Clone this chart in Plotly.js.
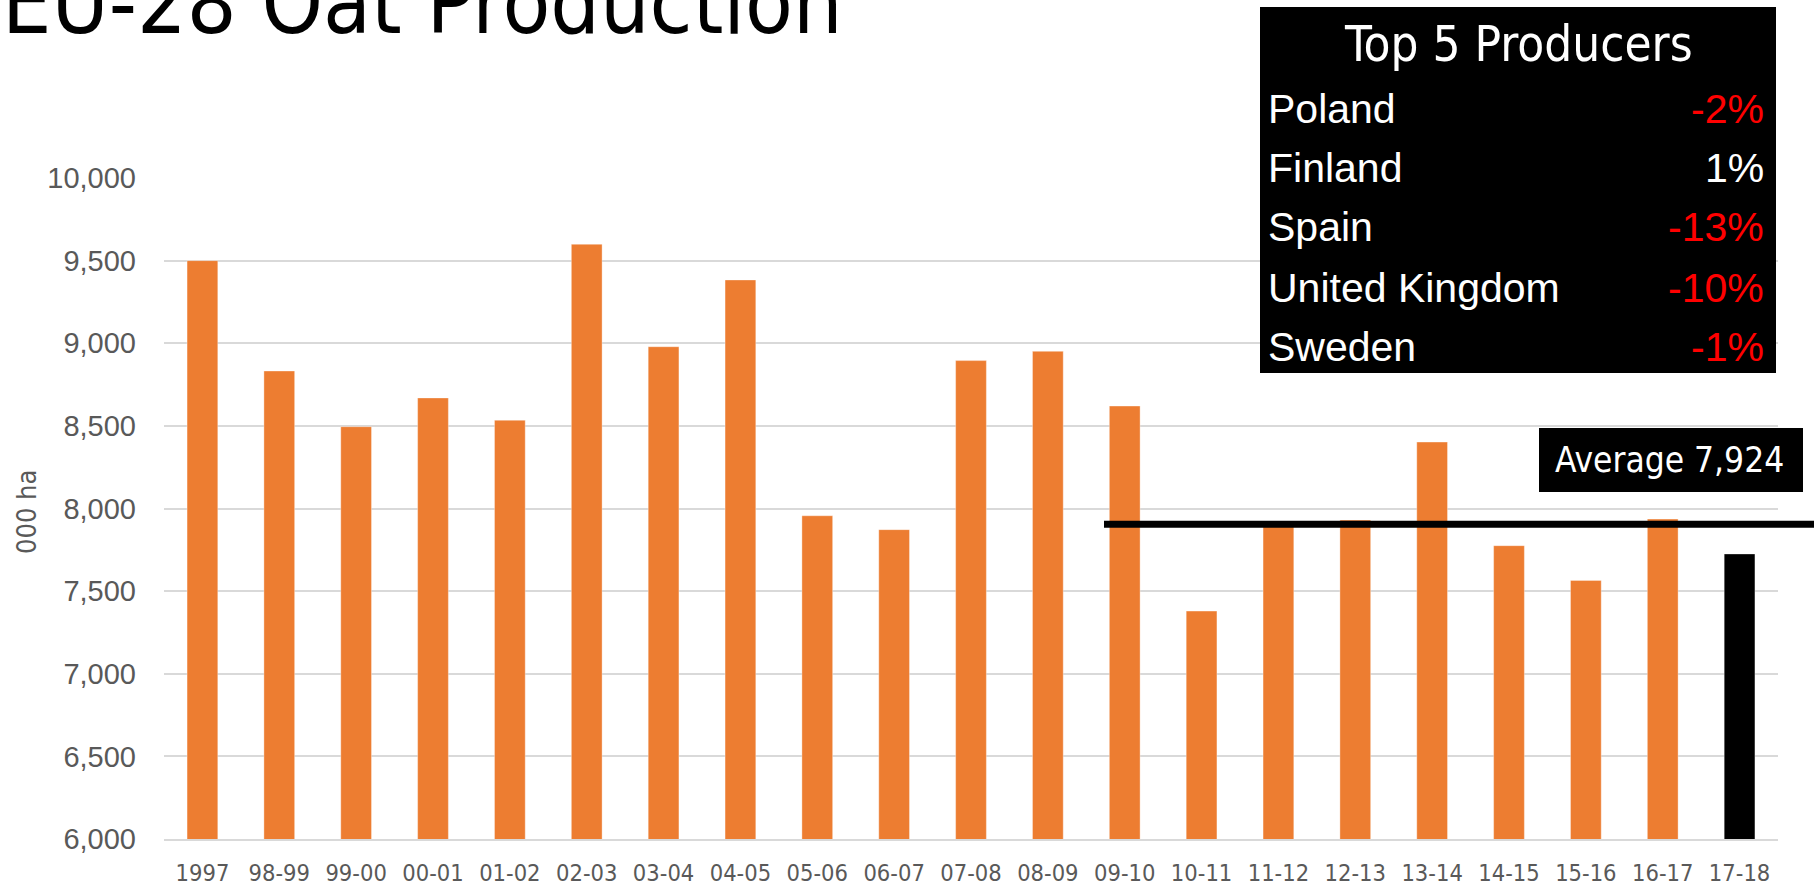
<!DOCTYPE html>
<html>
<head>
<meta charset="utf-8">
<script src="https://cdn.plot.ly/plotly-3.0.1.min.js"></script>
<style>
  html, body { margin: 0; padding: 0; background: #ffffff; }
  #chart { width: 1814px; height: 888px; }
</style>
</head>
<body>
<div id="chart"></div>
<script>
// ---- data ----
const categories = ['1997','98-99','99-00','00-01','01-02','02-03','03-04','04-05','05-06','06-07',
                    '07-08','08-09','09-10','10-11','11-12','12-13','13-14','14-15','15-16','16-17','17-18'];
const areaValues = [9500, 8832, 8495, 8669, 8534, 9599, 8979, 9383, 7956, 7872,
                    8895, 8951, 8620, 7379, 7900, 7930, 8402, 7775, 7565, 7936, 7725];
const averageValue = 7924;
const averageLineLevel = 7905;   // where the average line sits in the picture
const producers = ['Poland', 'Finland', 'Spain', 'United Kingdom', 'Sweden'];
const producerChanges = [-2, 1, -13, -10, -1];
const yTickValues = [6000, 6500, 7000, 7500, 8000, 8500, 9000, 9500, 10000];

// ---- styles ----
const ORANGE = '#ED7D31';
const GRID = '#d9d9d9';
const TICKGRAY = '#595959';
const NARROW = '"Liberation Sans Narrow", "Arial Narrow", "DejaVu Sans Condensed", sans-serif';
const SANS = '"Liberation Sans", Arial, sans-serif';

const M = {l: 164, r: 36, t: 178, b: 49};
const W = 1814, H = 888;
const plotW = W - M.l - M.r, plotH = H - M.t - M.b;
const px = x => (x - M.l) / plotW;          // page x -> paper x
const py = y => (H - M.b - y) / plotH;      // page y -> paper y

const barColors = categories.map((c, i) => i === categories.length - 1 ? '#000000' : ORANGE);

const traces = [{
  type: 'bar',
  x: categories,
  y: areaValues,
  marker: {color: barColors, line: {color: 'rgba(255,255,255,0.35)', width: 1}},
  hoverinfo: 'x+y'
}];

const shapes = [
  // average line
  {type: 'line', xref: 'paper', yref: 'y', x0: px(1104), x1: px(1830),
   y0: averageLineLevel, y1: averageLineLevel, line: {color: '#000000', width: 7}, layer: 'above'},
  // average label box
  {type: 'rect', xref: 'paper', yref: 'paper', x0: px(1539), x1: px(1803), y0: py(428), y1: py(492),
   fillcolor: '#000000', line: {width: 0}, layer: 'above'},
  // top 5 box
  {type: 'rect', xref: 'paper', yref: 'paper', x0: px(1260), x1: px(1776), y0: py(7), y1: py(373),
   fillcolor: '#000000', line: {width: 0}, layer: 'above'}
];

const fmtPct = v => (v < 0 ? '-' : '') + Math.abs(v) + '%';

const annotations = [
  {text: 'EU-28 Oat Production', xref: 'paper', yref: 'paper', x: px(0), y: py(3),
   xanchor: 'left', yanchor: 'middle', showarrow: false,
   font: {family: NARROW, size: 87, color: '#000000'}},
  {text: '000 ha', xref: 'paper', yref: 'paper', x: px(26), y: py(512), textangle: -90,
   xanchor: 'center', yanchor: 'middle', showarrow: false,
   font: {family: NARROW, size: 27, color: TICKGRAY}},
  {text: 'Average ' + averageValue.toLocaleString('en-US'), xref: 'paper', yref: 'paper',
   x: px(1669), y: py(460), xanchor: 'center', yanchor: 'middle', showarrow: false,
   font: {family: NARROW, size: 35, color: '#ffffff'}},
  {text: 'Top 5 Producers', xref: 'paper', yref: 'paper', x: px(1518), y: py(44),
   xanchor: 'center', yanchor: 'middle', showarrow: false,
   font: {family: NARROW, size: 49, color: '#ffffff'}}
];

const rowBaselines = [123, 182, 241, 302, 361];
producers.forEach((p, i) => {
  const cy = rowBaselines[i] - 14;
  annotations.push({text: p, xref: 'paper', yref: 'paper', x: px(1266), y: py(cy),
    xanchor: 'left', yanchor: 'middle', showarrow: false,
    font: {family: SANS, size: 41, color: '#ffffff'}});
  annotations.push({text: fmtPct(producerChanges[i]), xref: 'paper', yref: 'paper', x: px(1766), y: py(cy),
    xanchor: 'right', yanchor: 'middle', showarrow: false,
    font: {family: SANS, size: 41, color: producerChanges[i] < 0 ? '#ff0000' : '#ffffff'}});
});

const layout = {
  width: W, height: H,
  margin: M,
  paper_bgcolor: '#ffffff', plot_bgcolor: '#ffffff',
  showlegend: false,
  bargap: 0.6,
  xaxis: {
    type: 'category', range: [-0.5, categories.length - 0.5],
    showgrid: false, zeroline: false,
    showline: true, linecolor: GRID, linewidth: 2,
    ticks: '', ticklabelstandoff: 12,
    tickfont: {family: NARROW, size: 23.5, color: TICKGRAY},
    fixedrange: true
  },
  yaxis: {
    range: [6000, 10000], tickvals: yTickValues, tickformat: ',d',
    showgrid: true, gridcolor: GRID, gridwidth: 2,
    zeroline: false, showline: false,
    ticks: '', ticklabelstandoff: 27,
    tickfont: {family: SANS, size: 29, color: TICKGRAY},
    fixedrange: true
  },
  shapes: shapes,
  annotations: annotations
};

Plotly.newPlot('chart', traces, layout, {displayModeBar: false, staticPlot: true});
</script>
</body>
</html>
